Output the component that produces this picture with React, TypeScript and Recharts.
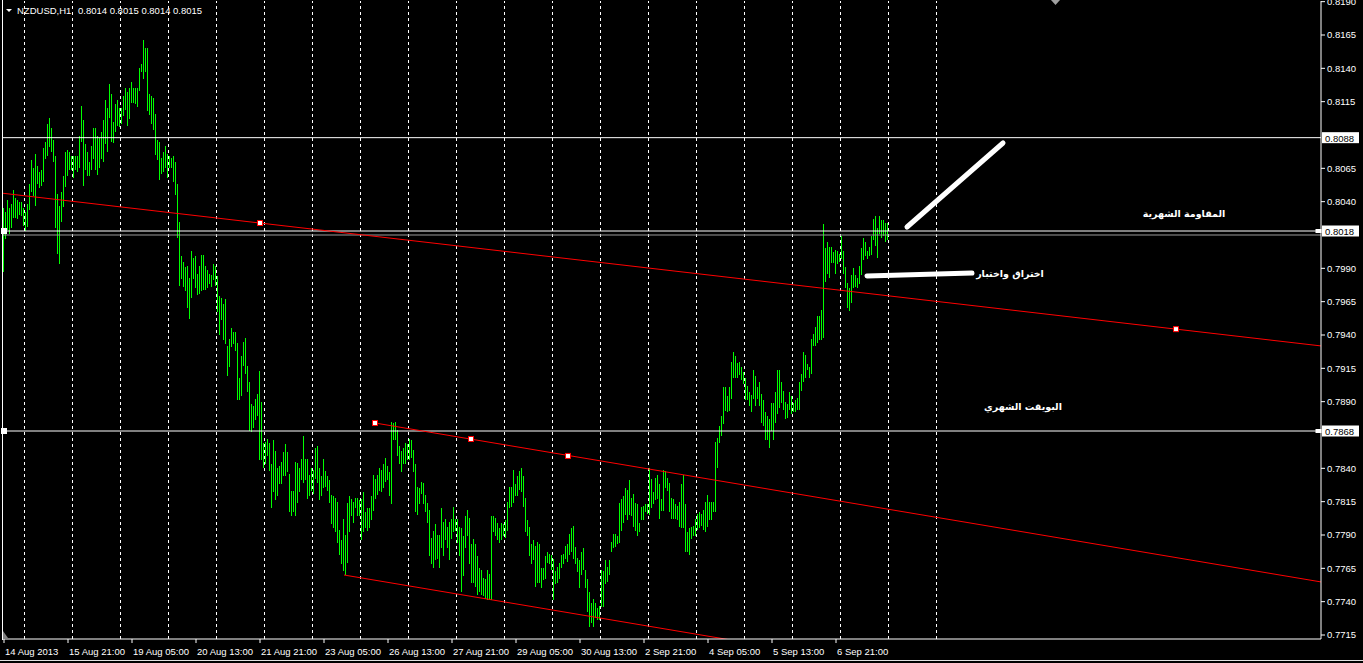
import React from "react";
import { ComposedChart, Bar, XAxis, YAxis, ReferenceLine, ReferenceDot } from "recharts";

// NZDUSD H1 bars (high / low per bar, left to right)
const highs = [
  0.8035, 0.8032, 0.8041, 0.8035, 0.8038, 0.8049, 0.8043, 0.8041, 0.8040, 0.8040, 0.8035, 0.8032, 0.8038, 0.8053, 0.8071, 0.8065, 0.8076, 0.8067, 0.8062, 0.8064,
  0.8080, 0.8085, 0.8098, 0.8103, 0.8095, 0.8086, 0.8074, 0.8046, 0.8037, 0.8047, 0.8059, 0.8077, 0.8079, 0.8077, 0.8074, 0.8074, 0.8074, 0.8074, 0.8089, 0.8112,
  0.8101, 0.8083, 0.8077, 0.8070, 0.8082, 0.8095, 0.8095, 0.8089, 0.8088, 0.8092, 0.8101, 0.8116, 0.8110, 0.8128, 0.8121, 0.8100, 0.8113, 0.8116, 0.8110, 0.8110,
  0.8119, 0.8125, 0.8122, 0.8125, 0.8130, 0.8125, 0.8125, 0.8125, 0.8140, 0.8143, 0.8161, 0.8155, 0.8155, 0.8121, 0.8119, 0.8118, 0.8106, 0.8086, 0.8085, 0.8073,
  0.8077, 0.8082, 0.8076, 0.8074, 0.8073, 0.8074, 0.8070, 0.8053, 0.8025, 0.7999, 0.7995, 0.7991, 0.7992, 0.7983, 0.8003, 0.7998, 0.7999, 0.7986, 0.7992, 0.8000,
  0.8000, 0.7992, 0.7989, 0.7986, 0.7985, 0.7993, 0.7992, 0.7984, 0.7969, 0.7968, 0.7963, 0.7967, 0.7932, 0.7937, 0.7945, 0.7942, 0.7942, 0.7934, 0.7908, 0.7924,
  0.7935, 0.7938, 0.7917, 0.7905, 0.7888, 0.7887, 0.7892, 0.7896, 0.7913, 0.7890, 0.7859, 0.7860, 0.7862, 0.7859, 0.7843, 0.7861, 0.7853, 0.7840, 0.7842, 0.7845,
  0.7852, 0.7858, 0.7852, 0.7836, 0.7823, 0.7823, 0.7845, 0.7844, 0.7840, 0.7847, 0.7864, 0.7847, 0.7847, 0.7835, 0.7840, 0.7839, 0.7855, 0.7857, 0.7840, 0.7834,
  0.7847, 0.7838, 0.7834, 0.7831, 0.7820, 0.7819, 0.7818, 0.7815, 0.7794, 0.7786, 0.7802, 0.7790, 0.7814, 0.7819, 0.7817, 0.7815, 0.7818, 0.7818, 0.7816, 0.7817,
  0.7822, 0.7807, 0.7810, 0.7810, 0.7819, 0.7835, 0.7832, 0.7835, 0.7840, 0.7839, 0.7843, 0.7848, 0.7842, 0.7837, 0.7875, 0.7874, 0.7875, 0.7869, 0.7857, 0.7853,
  0.7855, 0.7859, 0.7858, 0.7862, 0.7861, 0.7854, 0.7843, 0.7826, 0.7825, 0.7830, 0.7829, 0.7820, 0.7814, 0.7809, 0.7788, 0.7793, 0.7798, 0.7790, 0.7790, 0.7810,
  0.7800, 0.7802, 0.7796, 0.7800, 0.7802, 0.7811, 0.7802, 0.7802, 0.7796, 0.7795, 0.7789, 0.7804, 0.7809, 0.7803, 0.7783, 0.7787, 0.7783, 0.7774, 0.7765, 0.7764,
  0.7758, 0.7757, 0.7764, 0.7761, 0.7804, 0.7804, 0.7803, 0.7799, 0.7795, 0.7799, 0.7798, 0.7801, 0.7815, 0.7826, 0.7826, 0.7839, 0.7828, 0.7834, 0.7838, 0.7840,
  0.7834, 0.7818, 0.7801, 0.7796, 0.7783, 0.7786, 0.7782, 0.7785, 0.7783, 0.7765, 0.7765, 0.7774, 0.7777, 0.7776, 0.7775, 0.7772, 0.7763, 0.7766, 0.7769, 0.7775,
  0.7776, 0.7782, 0.7783, 0.7791, 0.7795, 0.7797, 0.7781, 0.7773, 0.7771, 0.7777, 0.7780, 0.7764, 0.7757, 0.7747, 0.7739, 0.7742, 0.7739, 0.7735, 0.7737, 0.7764,
  0.7763, 0.7771, 0.7766, 0.7771, 0.7785, 0.7791, 0.7791, 0.7789, 0.7814, 0.7817, 0.7819, 0.7825, 0.7824, 0.7831, 0.7818, 0.7821, 0.7814, 0.7813, 0.7799, 0.7811,
  0.7812, 0.7813, 0.7813, 0.7840, 0.7832, 0.7822, 0.7833, 0.7835, 0.7828, 0.7817, 0.7839, 0.7838, 0.7833, 0.7829, 0.7818, 0.7817, 0.7813, 0.7812, 0.7815, 0.7828,
  0.7835, 0.7813, 0.7792, 0.7795, 0.7796, 0.7797, 0.7802, 0.7806, 0.7807, 0.7806, 0.7809, 0.7815, 0.7820, 0.7815, 0.7815, 0.7815, 0.7860, 0.7863, 0.7872, 0.7879,
  0.7901, 0.7901, 0.7894, 0.7901, 0.7920, 0.7927, 0.7924, 0.7919, 0.7920, 0.7916, 0.7912, 0.7908, 0.7902, 0.7897, 0.7895, 0.7914, 0.7909, 0.7901, 0.7905, 0.7896,
  0.7891, 0.7882, 0.7879, 0.7877, 0.7889, 0.7889, 0.7897, 0.7914, 0.7914, 0.7905, 0.7898, 0.7890, 0.7888, 0.7897, 0.7894, 0.7889, 0.7891, 0.7893, 0.7905, 0.7911,
  0.7927, 0.7925, 0.7918, 0.7916, 0.7937, 0.7941, 0.7946, 0.7954, 0.7954, 0.7959, 0.8023, 0.8005, 0.8010, 0.8006, 0.8006, 0.8002, 0.8004, 0.8003, 0.8001, 0.8014,
  0.8003, 0.7991, 0.7979, 0.7975, 0.7985, 0.7990, 0.7985, 0.7983, 0.7992, 0.8005, 0.8013, 0.8010, 0.8003, 0.8006, 0.8014, 0.8027, 0.8029, 0.8020, 0.8029, 0.8026,
  0.8026, 0.8024, 0.8024,
];

const lows = [
  0.7987, 0.8012, 0.8019, 0.8016, 0.8020, 0.8028, 0.8028, 0.8027, 0.8030, 0.8029, 0.8022, 0.8018, 0.8021, 0.8034, 0.8047, 0.8044, 0.8037, 0.8053, 0.8050, 0.8052,
  0.8055, 0.8072, 0.8074, 0.8081, 0.8077, 0.8070, 0.8020, 0.8001, 0.7993, 0.8025, 0.8036, 0.8051, 0.8059, 0.8064, 0.8064, 0.8058, 0.8064, 0.8062, 0.8065, 0.8085,
  0.8052, 0.8064, 0.8059, 0.8059, 0.8064, 0.8072, 0.8064, 0.8060, 0.8065, 0.8072, 0.8070, 0.8083, 0.8077, 0.8103, 0.8085, 0.8084, 0.8092, 0.8097, 0.8096, 0.8098,
  0.8104, 0.8109, 0.8097, 0.8102, 0.8114, 0.8114, 0.8113, 0.8111, 0.8123, 0.8137, 0.8132, 0.8137, 0.8108, 0.8105, 0.8098, 0.8094, 0.8075, 0.8071, 0.8056, 0.8061,
  0.8062, 0.8065, 0.8058, 0.8065, 0.8065, 0.8055, 0.8045, 0.8013, 0.7977, 0.7982, 0.7976, 0.7973, 0.7960, 0.7952, 0.7968, 0.7982, 0.7975, 0.7970, 0.7971, 0.7973,
  0.7974, 0.7974, 0.7975, 0.7978, 0.7976, 0.7981, 0.7977, 0.7957, 0.7940, 0.7951, 0.7936, 0.7933, 0.7909, 0.7916, 0.7931, 0.7933, 0.7928, 0.7891, 0.7891, 0.7894,
  0.7917, 0.7911, 0.7897, 0.7868, 0.7867, 0.7870, 0.7876, 0.7879, 0.7846, 0.7846, 0.7840, 0.7843, 0.7849, 0.7838, 0.7810, 0.7822, 0.7816, 0.7819, 0.7828, 0.7828,
  0.7834, 0.7834, 0.7837, 0.7807, 0.7804, 0.7807, 0.7804, 0.7814, 0.7822, 0.7831, 0.7829, 0.7831, 0.7817, 0.7819, 0.7823, 0.7821, 0.7832, 0.7829, 0.7816, 0.7819,
  0.7825, 0.7826, 0.7823, 0.7814, 0.7798, 0.7795, 0.7792, 0.7784, 0.7775, 0.7768, 0.7763, 0.7760, 0.7769, 0.7792, 0.7804, 0.7799, 0.7810, 0.7804, 0.7804, 0.7786,
  0.7792, 0.7795, 0.7793, 0.7795, 0.7801, 0.7808, 0.7817, 0.7820, 0.7823, 0.7822, 0.7825, 0.7830, 0.7831, 0.7819, 0.7813, 0.7861, 0.7861, 0.7849, 0.7843, 0.7837,
  0.7843, 0.7843, 0.7846, 0.7846, 0.7848, 0.7837, 0.7807, 0.7805, 0.7813, 0.7821, 0.7813, 0.7807, 0.7799, 0.7774, 0.7768, 0.7765, 0.7771, 0.7772, 0.7765, 0.7780,
  0.7774, 0.7786, 0.7780, 0.7771, 0.7787, 0.7792, 0.7793, 0.7784, 0.7774, 0.7747, 0.7759, 0.7780, 0.7789, 0.7768, 0.7754, 0.7754, 0.7751, 0.7745, 0.7747, 0.7745,
  0.7744, 0.7742, 0.7741, 0.7741, 0.7741, 0.7792, 0.7789, 0.7786, 0.7784, 0.7786, 0.7789, 0.7788, 0.7793, 0.7810, 0.7811, 0.7814, 0.7819, 0.7819, 0.7824, 0.7822,
  0.7811, 0.7792, 0.7789, 0.7774, 0.7768, 0.7771, 0.7751, 0.7754, 0.7754, 0.7750, 0.7756, 0.7757, 0.7769, 0.7768, 0.7764, 0.7741, 0.7753, 0.7754, 0.7757, 0.7765,
  0.7768, 0.7772, 0.7770, 0.7775, 0.7777, 0.7772, 0.7768, 0.7762, 0.7750, 0.7760, 0.7764, 0.7750, 0.7732, 0.7721, 0.7724, 0.7721, 0.7728, 0.7726, 0.7726, 0.7736,
  0.7736, 0.7753, 0.7755, 0.7760, 0.7777, 0.7780, 0.7781, 0.7783, 0.7784, 0.7793, 0.7799, 0.7805, 0.7801, 0.7805, 0.7804, 0.7796, 0.7793, 0.7789, 0.7792, 0.7801,
  0.7801, 0.7807, 0.7806, 0.7805, 0.7810, 0.7813, 0.7816, 0.7817, 0.7802, 0.7808, 0.7808, 0.7825, 0.7823, 0.7807, 0.7802, 0.7802, 0.7802, 0.7801, 0.7796, 0.7795,
  0.7795, 0.7777, 0.7777, 0.7775, 0.7787, 0.7789, 0.7789, 0.7794, 0.7795, 0.7797, 0.7794, 0.7792, 0.7796, 0.7801, 0.7801, 0.7807, 0.7807, 0.7840, 0.7859, 0.7864,
  0.7873, 0.7883, 0.7882, 0.7883, 0.7892, 0.7908, 0.7908, 0.7908, 0.7910, 0.7906, 0.7903, 0.7891, 0.7891, 0.7887, 0.7882, 0.7892, 0.7887, 0.7892, 0.7887, 0.7874,
  0.7872, 0.7861, 0.7861, 0.7855, 0.7868, 0.7861, 0.7874, 0.7881, 0.7885, 0.7889, 0.7884, 0.7877, 0.7878, 0.7884, 0.7881, 0.7882, 0.7882, 0.7884, 0.7884, 0.7898,
  0.7905, 0.7908, 0.7914, 0.7908, 0.7911, 0.7932, 0.7932, 0.7934, 0.7936, 0.7936, 0.7938, 0.7980, 0.7986, 0.7983, 0.7994, 0.7994, 0.7986, 0.7993, 0.7995, 0.7997,
  0.7986, 0.7975, 0.7960, 0.7958, 0.7964, 0.7975, 0.7976, 0.7975, 0.7978, 0.7985, 0.7996, 0.7999, 0.7997, 0.7999, 0.8000, 0.8011, 0.8007, 0.7998, 0.8016, 0.8013,
  0.8014, 0.8010, 0.8011,
];

// time axis labels (bar index -> label)
const timeTicks = [0, 32, 64, 96, 128, 160, 192, 224, 256, 288, 320, 352, 384, 416];
const timeLabels = [
  "14 Aug 2013", "15 Aug 21:00", "19 Aug 05:00", "20 Aug 13:00", "21 Aug 21:00", "23 Aug 05:00", "26 Aug 13:00",
  "27 Aug 21:00", "29 Aug 05:00", "30 Aug 13:00", "2 Sep 21:00", "4 Sep 05:00", "5 Sep 13:00", "6 Sep 21:00",
];

// price scale labels (the ones hidden under the price tags are left out)
const priceTicks = [
  0.7715, 0.774, 0.7765, 0.779, 0.7815, 0.784, 0.789, 0.7915, 0.794, 0.7965, 0.799, 0.804, 0.8065, 0.8115, 0.814, 0.8165, 0.819,
];

// horizontal levels drawn on the chart
const levels = [0.8088, 0.8018, 0.7868];
const handleLevels = [0.8018, 0.7868];
const bid = 0.8015;

// red trendlines: [bar index, price] pairs
const trendLines = [
  [[-0.5, 0.80463], [658.5, 0.79318]],
  [[185.5, 0.7874], [658.5, 0.77548]],
  [[170, 0.776], [658.5, 0.76369]],
];
const trendAnchors = [
  [128, 0.8024], [586, 0.79444], [185.5, 0.7874], [233.5, 0.7862], [282, 0.78493],
];

// hand-drawn white strokes
const strokes = [
  [[451.5, 0.8021], [499.5, 0.8084]],
  [[431.5, 0.79843], [484, 0.79865]],
];

const notes = [
  { i: 590, p: 0.80315, text: "المقاومة الشهرية" },
  { i: 503, p: 0.79865, text: "اختراق واختبار" },
  { i: 509.5, p: 0.78868, text: "البويقت  الشهري" },
];

const gridIdx = Array.from({ length: 20 }, (_, k) => 10.25 + 24 * k);

const data = highs.map((h, i) => ({ i, range: [lows[i], h] }));

const FONT = "'Liberation Sans', Arial, sans-serif";
const AR_FONT = "'DejaVu Sans', sans-serif";

const TimeTick = (props: any) => {
  const { x, y, payload } = props;
  const k = timeTicks.indexOf(payload.value);
  return (
    <text x={x + 1} y={y} dy={10} fill="#fff" fontSize={9.5} fontFamily={FONT} textAnchor="start">
      {timeLabels[k]}
    </text>
  );
};

// one high-low stick, drawn as a 1px green stroke
const Stick = (p: any) => {
  if (p.height == null || isNaN(p.y)) return null;
  const cx = Math.round(p.x + p.width / 2 - 0.5) + 0.5;
  const top = Math.round(p.y);
  const bottom = Math.max(top + 1, Math.round(p.y + p.height));
  return (
    <line x1={cx} x2={cx} y1={top} y2={bottom} stroke="#00ff00" strokeWidth={1} shapeRendering="crispEdges" />
  );
};

const App: React.FC = () => {
  return (
    <div style={{ position: "fixed", left: 0, top: 0, width: 1363, height: 663, background: "#000" }}>
      <ComposedChart width={1363} height={663} data={data} margin={{ top: 1, right: 0, bottom: 0, left: 3 }}>
        <XAxis
          dataKey="i"
          type="number"
          domain={[-0.5, 658.5]}
          allowDataOverflow
          ticks={timeTicks}
          interval={0}
          tick={<TimeTick />}
          tickSize={4}
          tickLine={{ stroke: "#fff" }}
          axisLine={{ stroke: "#fff" }}
          height={24}
        />
        <YAxis
          orientation="right"
          type="number"
          domain={[0.7712, 0.81905]}
          allowDataOverflow
          ticks={priceTicks}
          interval={0}
          tickFormatter={(v: number) => v.toFixed(4)}
          tick={{ fill: "#fff", fontSize: 9.5, fontFamily: FONT }}
          tickSize={4}
          tickLine={{ stroke: "#fff" }}
          axisLine={{ stroke: "#fff" }}
          width={42}
        />
        {gridIdx.map((g) => (
          <ReferenceLine key={`g${g}`} x={g} stroke="#fff" strokeDasharray="3 3" />
        ))}
        <Bar dataKey="range" fill="#00ff00" barSize={1} isAnimationActive={false} shape={<Stick />} />
        <ReferenceLine y={bid} stroke="#9a9a9a" />
        {levels.map((lv) => (
          <ReferenceLine key={`l${lv}`} y={lv} stroke="#fff" />
        ))}
        {trendLines.map((t, k) => (
          <ReferenceLine
            key={`t${k}`}
            segment={[{ x: t[0][0], y: t[0][1] }, { x: t[1][0], y: t[1][1] }]}
            stroke="#ff0000"
            ifOverflow="hidden"
          />
        ))}
        {strokes.map((s, k) => (
          <ReferenceLine
            key={`s${k}`}
            segment={[{ x: s[0][0], y: s[0][1] }, { x: s[1][0], y: s[1][1] }]}
            stroke="#fff"
            strokeWidth={5}
            strokeLinecap="round"
            ifOverflow="visible"
          />
        ))}
        {trendAnchors.map((a, k) => (
          <ReferenceDot
            key={`a${k}`}
            x={a[0]}
            y={a[1]}
            ifOverflow="visible"
            shape={(p: any) => (
              <rect x={p.cx - 2.5} y={p.cy - 2.5} width={5} height={5} fill="#fff" stroke="#ff0000" strokeWidth={1} />
            )}
          />
        ))}
        {handleLevels.map((lv) => (
          <ReferenceDot
            key={`hl${lv}`}
            x={0}
            y={lv}
            ifOverflow="visible"
            shape={(p: any) => <rect x={p.cx - 3} y={p.cy - 3} width={6} height={6} fill="#fff" />}
          />
        ))}
        {handleLevels.map((lv) => (
          <ReferenceDot
            key={`hr${lv}`}
            x={657.25}
            y={lv}
            ifOverflow="visible"
            shape={(p: any) => <rect x={p.cx - 3} y={p.cy - 2} width={6} height={4} fill="#fff" />}
          />
        ))}
        {levels.map((lv) => (
          <ReferenceDot
            key={`tag${lv}`}
            x={658.5}
            y={lv}
            ifOverflow="visible"
            shape={(p: any) => (
              <g>
                <rect x={p.cx + 1} y={p.cy - 5.5} width={37} height={11} fill="#fff" />
                <text x={p.cx + 4} y={p.cy + 4} fill="#000" fontSize={9.5} fontFamily={FONT}>
                  {lv.toFixed(4)}
                </text>
              </g>
            )}
          />
        ))}
        {notes.map((n) => (
          <ReferenceDot
            key={n.text}
            x={n.i}
            y={n.p}
            ifOverflow="visible"
            shape={(p: any) => (
              <text x={p.cx} y={p.cy + 4} fill="#fff" fontSize={9.5} fontWeight="bold" fontFamily={AR_FONT} textAnchor="middle">
                {n.text}
              </text>
            )}
          />
        ))}
      </ComposedChart>
      <svg width={1363} height={663} style={{ position: "absolute", left: 0, top: 0, pointerEvents: "none" }}>
        <rect x={2} y={0} width={1} height={640} fill="#fff" />
        <rect x={0} y={660} width={1363} height={1} fill="#e0e0e0" />
        <polygon points="1051,0 1060,0 1055.5,5" fill="#a0a0a0" />
        <polygon points="3,631 3,638 8,638" fill="#808080" />
        <polygon points="6,9 12,9 9,12" fill="#fff" />
        <text x={17} y={14} fill="#fff" fontSize={9.5} fontFamily={FONT}>NZDUSD,H1</text>
        <text x={78} y={14} fill="#fff" fontSize={9.5} fontFamily={FONT}>0.8014 0.8015 0.8014 0.8015</text>
      </svg>
    </div>
  );
};

export default App;
